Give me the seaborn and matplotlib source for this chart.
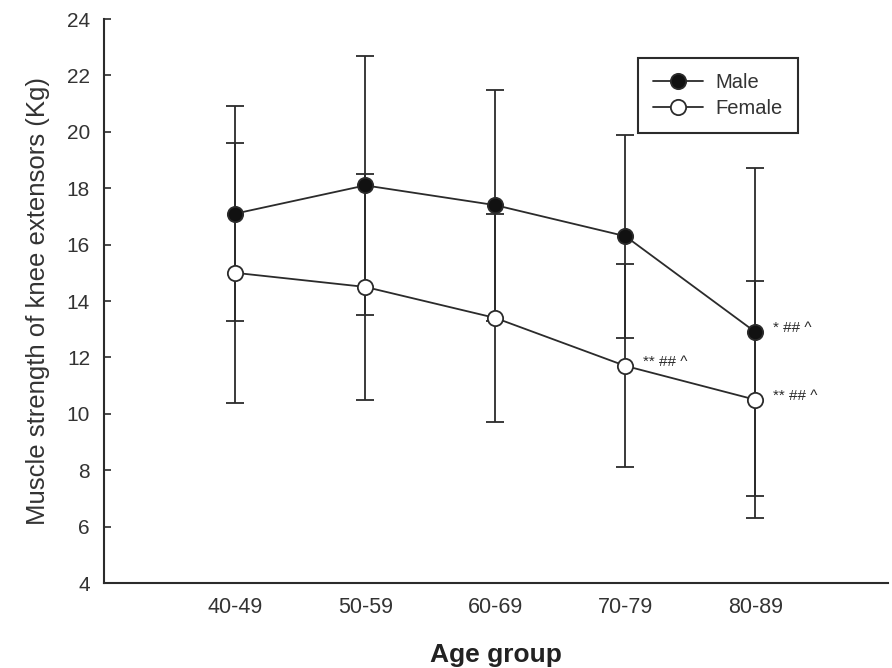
import matplotlib
matplotlib.use("Agg")
import matplotlib.pyplot as plt
import pandas as pd
import seaborn as sns

age_groups = ["40-49", "50-59", "60-69", "70-79", "80-89"]
male_mean = [17.1, 18.1, 17.4, 16.3, 12.9]
male_sd = [3.8, 4.6, 4.1, 3.6, 5.8]
female_mean = [15.0, 14.5, 13.4, 11.7, 10.5]
female_sd = [4.6, 4.0, 3.7, 3.6, 4.2]
# significance marks: (group, sex, text)
marks = [("80-89", "Male", "* ## ^"),
         ("70-79", "Female", "** ## ^"),
         ("80-89", "Female", "** ## ^")]

sns.set_theme(style="ticks")
plt.rcParams["font.family"] = ["Liberation Sans", "DejaVu Sans"]

df = pd.DataFrame({
    "age": age_groups * 2,
    "sex": ["Male"] * 5 + ["Female"] * 5,
    "mean": male_mean + female_mean,
    "sd": male_sd + female_sd,
})

ink = "#2b2b2b"
fig = plt.figure(figsize=(8.92, 6.68), dpi=100)
ax = fig.add_axes([0.1166, 0.1272, 0.8789, 0.8443])

face = {"Male": "#111111", "Female": "white"}
for sex in ["Male", "Female"]:
    sub = df[df["sex"] == sex]
    ax.errorbar(sub["age"], sub["mean"], yerr=sub["sd"], fmt="none",
                ecolor=ink, elinewidth=1.3, capsize=6.5, capthick=1.3,
                zorder=2)
for sex in ["Male", "Female"]:
    sub = df[df["sex"] == sex]
    sns.lineplot(data=sub, x="age", y="mean", ax=ax, color=ink,
                 linewidth=1.3, marker="o", markersize=11,
                 markerfacecolor=face[sex], markeredgecolor=ink,
                 markeredgewidth=1.3, label=sex, zorder=3)

for grp, sex, txt in marks:
    row = df[(df["age"] == grp) & (df["sex"] == sex)].iloc[0]
    ax.annotate(txt, (row["age"], row["mean"]), xytext=(13, 3),
                textcoords="offset points", fontsize=11, color=ink,
                va="center", ha="left")

ax.set_xlim(-1.01, 5.02)
ax.set_ylim(4, 24)
ax.set_yticks(range(4, 25, 2))
sns.despine(ax=ax)
for side in ["left", "bottom"]:
    ax.spines[side].set_color(ink)
    ax.spines[side].set_linewidth(1.5)
ax.tick_params(axis="y", direction="in", length=5, width=1.2, color=ink,
               labelsize=15, labelcolor="#333333", pad=10)
ax.tick_params(axis="x", length=0, labelsize=15.5, labelcolor="#333333", pad=10)

ax.set_xlabel("Age group", fontsize=19, fontweight="bold", color="#222222",
              labelpad=18)
ax.set_ylabel("Muscle strength of knee extensors (Kg)", fontsize=18.5,
              color="#333333", labelpad=12)

leg = ax.legend(loc="upper left", bbox_to_anchor=(0.681, 0.931),
                fontsize=14.5, frameon=True, fancybox=False, framealpha=1,
                edgecolor=ink, handlelength=2.5, handletextpad=0.6,
                labelspacing=0.35, borderaxespad=0, borderpad=0.75)
leg.get_frame().set_linewidth(1.5)
for t in leg.get_texts():
    t.set_color("#333333")

fig.savefig("out.png", dpi=100)
